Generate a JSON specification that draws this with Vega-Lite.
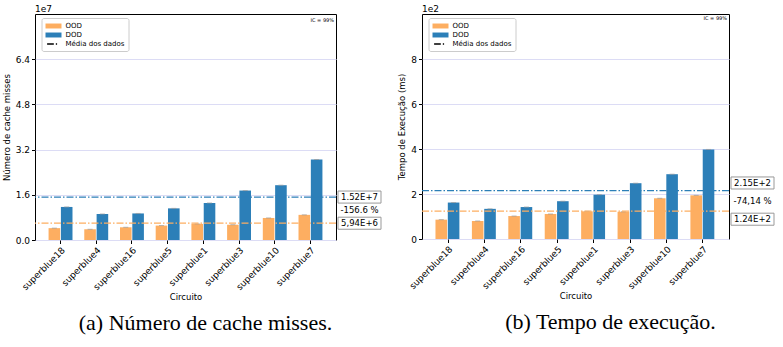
{
  "$schema": "https://vega.github.io/schema/vega-lite/v6.json",
  "padding": {"left": 1, "top": 4, "right": 0, "bottom": 0},
  "background": "white",
  "datasets": {
    "cache": [
      {"circuito": "superblue18", "tipo": "OOD", "valor": 0.42},
      {"circuito": "superblue18", "tipo": "DOD", "valor": 1.17},
      {"circuito": "superblue4", "tipo": "OOD", "valor": 0.38},
      {"circuito": "superblue4", "tipo": "DOD", "valor": 0.92},
      {"circuito": "superblue16", "tipo": "OOD", "valor": 0.45},
      {"circuito": "superblue16", "tipo": "DOD", "valor": 0.94},
      {"circuito": "superblue5", "tipo": "OOD", "valor": 0.51},
      {"circuito": "superblue5", "tipo": "DOD", "valor": 1.12},
      {"circuito": "superblue1", "tipo": "OOD", "valor": 0.57},
      {"circuito": "superblue1", "tipo": "DOD", "valor": 1.31},
      {"circuito": "superblue3", "tipo": "OOD", "valor": 0.54},
      {"circuito": "superblue3", "tipo": "DOD", "valor": 1.75},
      {"circuito": "superblue10", "tipo": "OOD", "valor": 0.78},
      {"circuito": "superblue10", "tipo": "DOD", "valor": 1.94},
      {"circuito": "superblue7", "tipo": "OOD", "valor": 0.89},
      {"circuito": "superblue7", "tipo": "DOD", "valor": 2.85}
    ],
    "tempo": [
      {"circuito": "superblue18", "tipo": "OOD", "valor": 0.86},
      {"circuito": "superblue18", "tipo": "DOD", "valor": 1.62},
      {"circuito": "superblue4", "tipo": "OOD", "valor": 0.80},
      {"circuito": "superblue4", "tipo": "DOD", "valor": 1.34},
      {"circuito": "superblue16", "tipo": "OOD", "valor": 1.02},
      {"circuito": "superblue16", "tipo": "DOD", "valor": 1.42},
      {"circuito": "superblue5", "tipo": "OOD", "valor": 1.11},
      {"circuito": "superblue5", "tipo": "DOD", "valor": 1.68},
      {"circuito": "superblue1", "tipo": "OOD", "valor": 1.23},
      {"circuito": "superblue1", "tipo": "DOD", "valor": 1.97},
      {"circuito": "superblue3", "tipo": "OOD", "valor": 1.21},
      {"circuito": "superblue3", "tipo": "DOD", "valor": 2.48},
      {"circuito": "superblue10", "tipo": "OOD", "valor": 1.81},
      {"circuito": "superblue10", "tipo": "DOD", "valor": 2.88},
      {"circuito": "superblue7", "tipo": "OOD", "valor": 1.94},
      {"circuito": "superblue7", "tipo": "DOD", "valor": 3.98}
    ],
    "legenda": [
      {"item": "OOD"},
      {"item": "DOD"},
      {"item": "Média dos dados"}
    ],
    "um": [{"n": 1}]
  },
  "spacing": 13,
  "resolve": {
    "scale": {"color": "independent", "shape": "independent", "fill": "independent"},
    "legend": {"color": "independent", "shape": "independent"}
  },
  "hconcat": [
    {
      "width": 301,
      "height": 226,
      "data": {"name": "um"},
      "title": {"text": "(a) Número de cache misses.", "dx": 20},
      "layer": [
        {
          "data": {"name": "cache"},
          "mark": {"type": "bar"},
          "encoding": {
            "x": {
              "field": "circuito", "type": "nominal",
              "sort": ["superblue18", "superblue4", "superblue16", "superblue5", "superblue1", "superblue3", "superblue10", "superblue7"],
              "scale": {"paddingInner": 0.33, "paddingOuter": 0.38},
              "title": "Circuito"
            },
            "xOffset": {"field": "tipo", "sort": ["OOD", "DOD"], "scale": {"paddingInner": 0.06}},
            "y": {
              "field": "valor", "type": "quantitative",
              "scale": {"domain": [0, 8], "nice": false},
              "axis": {"values": [0, 1.6, 3.2, 4.8, 6.4], "format": ".1f", "grid": true},
              "title": "Número de cache misses"
            },
            "fill": {"field": "tipo", "type": "nominal", "scale": {"domain": ["OOD", "DOD"], "range": ["#fdae61", "#2c7fb8"]}, "legend": null}
          }
        },
        {
          "data": {"name": "cache"},
          "mark": {"type": "tick", "color": "#999999", "size": 5, "thickness": 1},
          "encoding": {
            "x": {"field": "circuito", "type": "nominal", "sort": ["superblue18", "superblue4", "superblue16", "superblue5", "superblue1", "superblue3", "superblue10", "superblue7"]},
            "xOffset": {"field": "tipo", "sort": ["OOD", "DOD"]},
            "y": {"field": "valor", "type": "quantitative"}
          }
        },
        {
          "mark": {"type": "rule", "color": "#fdae61", "strokeDash": [7, 2, 1.5, 2], "strokeWidth": 1.2},
          "encoding": {"y": {"datum": 0.594}}
        },
        {
          "mark": {"type": "rule", "color": "#2c7fb8", "strokeDash": [7, 2, 1.5, 2], "strokeWidth": 1.2},
          "encoding": {"y": {"datum": 1.52}}
        },
        {
          "data": {"name": "legenda"},
          "mark": {"type": "point", "filled": true, "clip": true, "opacity": 1},
          "encoding": {
            "y": {"datum": -10},
            "color": {"field": "item", "type": "nominal", "scale": {"domain": ["OOD", "DOD", "Média dos dados"], "range": ["#fdae61", "#2c7fb8", "#000000"]}, "legend": {"title": null}},
            "shape": {"field": "item", "type": "nominal", "scale": {"domain": ["OOD", "DOD", "Média dos dados"], "range": ["M-1,-0.62H3V0.62H-1Z", "M-1,-0.62H3V0.62H-1Z", "M-0.6,-0.18H1.08V0.18H-0.6Z M1.58,-0.18H1.9V0.18H1.58Z"]}, "legend": {"title": null}}
          }
        },
        {
          "mark": {"type": "text", "x": "width", "y": 0, "dx": -2, "dy": 6, "align": "right", "baseline": "middle", "fontSize": 5, "text": "IC = 99%"},
          "encoding": {}
        },
        {
          "mark": {"type": "text", "x": 0, "y": 0, "dy": -2, "align": "left", "baseline": "alphabetic", "fontSize": 9, "text": "1e7"},
          "encoding": {}
        },
        {
          "mark": {"type": "point", "shape": "M-1,-0.28H1V0.28H-1Z", "size": 1849, "filled": false, "fill": "white", "stroke": "#999999", "strokeWidth": 1, "opacity": 1, "x": "width", "xOffset": 23.5},
          "encoding": {"y": {"datum": 1.52}}
        },
        {
          "mark": {"type": "point", "shape": "M-1,-0.28H1V0.28H-1Z", "size": 1849, "filled": false, "fill": "white", "stroke": "#999999", "strokeWidth": 1, "opacity": 1, "x": "width", "xOffset": 23.5},
          "encoding": {"y": {"datum": 0.594}}
        },
        {
          "mark": {"type": "text", "x": "width", "dx": 23.5, "align": "center", "baseline": "middle", "fontSize": 8.5, "text": "1.52E+7"},
          "encoding": {"y": {"datum": 1.52}}
        },
        {
          "mark": {"type": "text", "x": "width", "dx": 23.5, "align": "center", "baseline": "middle", "fontSize": 8.5, "text": "-156.6 %"},
          "encoding": {"y": {"datum": 1.057}}
        },
        {
          "mark": {"type": "text", "x": "width", "dx": 23.5, "align": "center", "baseline": "middle", "fontSize": 8.5, "text": "5,94E+6"},
          "encoding": {"y": {"datum": 0.594}}
        }
      ]
    },
    {
      "width": 307,
      "height": 225,
      "data": {"name": "um"},
      "title": {"text": "(b) Tempo de execução.", "dx": 35},
      "layer": [
        {
          "data": {"name": "tempo"},
          "mark": {"type": "bar"},
          "encoding": {
            "x": {
              "field": "circuito", "type": "nominal",
              "sort": ["superblue18", "superblue4", "superblue16", "superblue5", "superblue1", "superblue3", "superblue10", "superblue7"],
              "scale": {"paddingInner": 0.31, "paddingOuter": 0.37},
              "title": "Circuito"
            },
            "xOffset": {"field": "tipo", "sort": ["OOD", "DOD"], "scale": {"paddingInner": 0.06}},
            "y": {
              "field": "valor", "type": "quantitative",
              "scale": {"domain": [0, 10], "nice": false},
              "axis": {"values": [0, 2, 4, 6, 8], "format": "d", "grid": true},
              "title": "Tempo de Execução (ms)"
            },
            "fill": {"field": "tipo", "type": "nominal", "scale": {"domain": ["OOD", "DOD"], "range": ["#fdae61", "#2c7fb8"]}, "legend": null}
          }
        },
        {
          "data": {"name": "tempo"},
          "mark": {"type": "tick", "color": "#999999", "size": 5, "thickness": 1},
          "encoding": {
            "x": {"field": "circuito", "type": "nominal", "sort": ["superblue18", "superblue4", "superblue16", "superblue5", "superblue1", "superblue3", "superblue10", "superblue7"]},
            "xOffset": {"field": "tipo", "sort": ["OOD", "DOD"]},
            "y": {"field": "valor", "type": "quantitative"}
          }
        },
        {
          "mark": {"type": "rule", "color": "#fdae61", "strokeDash": [7, 2, 1.5, 2], "strokeWidth": 1.2},
          "encoding": {"y": {"datum": 1.24}}
        },
        {
          "mark": {"type": "rule", "color": "#2c7fb8", "strokeDash": [7, 2, 1.5, 2], "strokeWidth": 1.2},
          "encoding": {"y": {"datum": 2.15}}
        },
        {
          "data": {"name": "legenda"},
          "mark": {"type": "point", "filled": true, "clip": true, "opacity": 1},
          "encoding": {
            "y": {"datum": -10},
            "color": {"field": "item", "type": "nominal", "scale": {"domain": ["OOD", "DOD", "Média dos dados"], "range": ["#fdae61", "#2c7fb8", "#000000"]}, "legend": {"title": null}},
            "shape": {"field": "item", "type": "nominal", "scale": {"domain": ["OOD", "DOD", "Média dos dados"], "range": ["M-1,-0.62H3V0.62H-1Z", "M-1,-0.62H3V0.62H-1Z", "M-0.6,-0.18H1.08V0.18H-0.6Z M1.58,-0.18H1.9V0.18H1.58Z"]}, "legend": {"title": null}}
          }
        },
        {
          "mark": {"type": "text", "x": "width", "y": 0, "dx": -2, "dy": 4, "align": "right", "baseline": "middle", "fontSize": 5, "text": "IC = 99%"},
          "encoding": {}
        },
        {
          "mark": {"type": "text", "x": 0, "y": 0, "dy": -2, "align": "left", "baseline": "alphabetic", "fontSize": 9, "text": "1e2"},
          "encoding": {}
        },
        {
          "mark": {"type": "point", "shape": "M-1,-0.28H1V0.28H-1Z", "size": 1849, "filled": false, "fill": "white", "stroke": "#999999", "strokeWidth": 1, "opacity": 1, "x": "width", "xOffset": 23.5},
          "encoding": {"y": {"datum": 2.49}}
        },
        {
          "mark": {"type": "point", "shape": "M-1,-0.28H1V0.28H-1Z", "size": 1849, "filled": false, "fill": "white", "stroke": "#999999", "strokeWidth": 1, "opacity": 1, "x": "width", "xOffset": 23.5},
          "encoding": {"y": {"datum": 0.88}}
        },
        {
          "mark": {"type": "text", "x": "width", "dx": 23.5, "align": "center", "baseline": "middle", "fontSize": 8.5, "text": "2.15E+2"},
          "encoding": {"y": {"datum": 2.49}}
        },
        {
          "mark": {"type": "text", "x": "width", "dx": 23.5, "align": "center", "baseline": "middle", "fontSize": 8.5, "text": "-74,14 %"},
          "encoding": {"y": {"datum": 1.68}}
        },
        {
          "mark": {"type": "text", "x": "width", "dx": 23.5, "align": "center", "baseline": "middle", "fontSize": 8.5, "text": "1.24E+2"},
          "encoding": {"y": {"datum": 0.88}}
        }
      ]
    }
  ],
  "config": {
    "font": "DejaVu Sans",
    "view": {"stroke": "#000000", "strokeWidth": 1},
    "text": {"font": "DejaVu Sans", "color": "#000000"},
    "axis": {
      "domain": false,
      "labelFont": "DejaVu Sans", "labelFontSize": 9, "labelColor": "#000000",
      "titleFont": "DejaVu Sans", "titleFontSize": 8.5, "titleFontWeight": "normal", "titleColor": "#000000",
      "tickColor": "#000000", "tickSize": 3.5, "labelPadding": 2, "gridColor": "#dcdcf5", "gridWidth": 1
    },
    "axisX": {"labelAngle": -45, "labelAlign": "right", "labelBaseline": "top", "titlePadding": 1, "grid": false},
    "axisY": {"titlePadding": 4},
    "legend": {
      "orient": "none", "legendX": 6.5, "legendY": 4,
      "fillColor": "white", "strokeColor": "#cccccc", "padding": 4, "cornerRadius": 2,
      "labelFont": "DejaVu Sans", "labelFontSize": 7, "labelColor": "#000000",
      "symbolSize": 64, "symbolStrokeWidth": 0, "rowPadding": 2, "labelOffset": 12
    },
    "title": {"orient": "bottom", "anchor": "middle", "frame": "group", "font": "Liberation Serif", "fontSize": 22, "fontWeight": "normal", "color": "#000000", "offset": 12}
  }
}
